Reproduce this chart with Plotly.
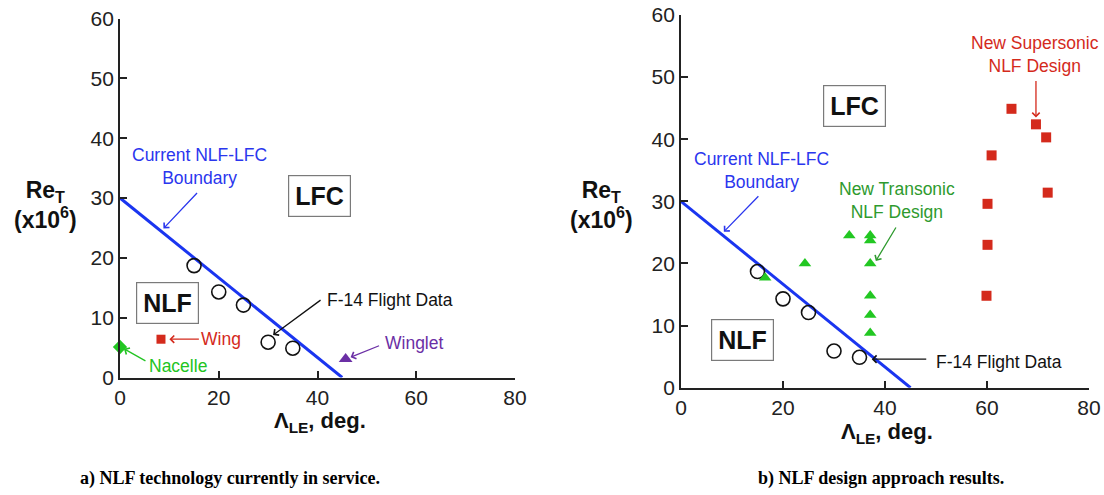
import plotly.graph_objects as go

# ---- data -------------------------------------------------------------
# current NLF-LFC boundary (sweep angle vs. transition Reynolds number)
boundary_sweep = [0, 45]
boundary_re = [30, 0]

# F-14 flight data
f14_sweep = [15, 20, 25, 30, 35]
f14_re = [18.7, 14.3, 12.1, 5.9, 4.9]

# NLF technology currently in service
wing_sweep = [8.3]
wing_re = [6.4]
nacelle_sweep = [0]
nacelle_re = [5.1]
winglet_sweep = [45.7]
winglet_re = [3.1]

# new transonic NLF designs
transonic_sweep = [16.5, 24.3, 33.0, 37.1, 37.1, 37.1, 37.1, 37.1, 37.1]
transonic_re = [17.7, 20.0, 24.5, 24.5, 23.7, 20.0, 14.8, 11.7, 8.8]

# new supersonic NLF designs
supersonic_sweep = [64.8, 69.6, 71.6, 60.9, 71.9, 60.1, 60.1, 59.9]
supersonic_re = [44.9, 42.4, 40.3, 37.4, 31.4, 29.6, 23.0, 14.8]

x_ticks = [0, 20, 40, 60, 80]
y_ticks = [0, 10, 20, 30, 40, 50, 60]

# ---- styling ----------------------------------------------------------
W, H = 1104, 495
BLUE_LINE = "#1a35f0"
BLUE_TXT = "#2a36ee"
RED = "#d42a1c"
GREEN = "#22c722"
GREEN_TXT = "#2e9a2e"
NACELLE_TXT = "#22c422"
PURPLE = "#6b2fa5"
SANS = "Liberation Sans, Arial, sans-serif"
SERIF = "Liberation Serif, Times New Roman, serif"

fig = go.Figure()


def boundary(xa, ya):
    fig.add_trace(go.Scatter(x=boundary_sweep, y=boundary_re, mode="lines",
                             line=dict(color=BLUE_LINE, width=3),
                             xaxis=xa, yaxis=ya, showlegend=False, hoverinfo="skip"))


def f14(xa, ya):
    fig.add_trace(go.Scatter(x=f14_sweep, y=f14_re, mode="markers",
                             marker=dict(symbol="circle-open", size=14,
                                         color="#111", line=dict(width=1.6)),
                             xaxis=xa, yaxis=ya, showlegend=False, cliponaxis=False))


# left panel: technology in service
boundary("x", "y")
f14("x", "y")
fig.add_trace(go.Scatter(x=wing_sweep, y=wing_re, mode="markers",
                         marker=dict(symbol="square", size=9, color=RED),
                         xaxis="x", yaxis="y", showlegend=False, cliponaxis=False))
fig.add_trace(go.Scatter(x=nacelle_sweep, y=nacelle_re, mode="markers",
                         marker=dict(symbol="diamond", size=11, color=GREEN),
                         xaxis="x", yaxis="y", showlegend=False, cliponaxis=False))
fig.add_trace(go.Scatter(x=winglet_sweep, y=winglet_re, mode="markers",
                         marker=dict(symbol="triangle-up", size=12, color=PURPLE),
                         xaxis="x", yaxis="y", showlegend=False, cliponaxis=False))

# right panel: design approach results
boundary("x2", "y2")
f14("x2", "y2")
fig.add_trace(go.Scatter(x=transonic_sweep, y=transonic_re, mode="markers",
                         marker=dict(symbol="triangle-up", size=11, color=GREEN),
                         xaxis="x2", yaxis="y2", showlegend=False, cliponaxis=False))
fig.add_trace(go.Scatter(x=supersonic_sweep, y=supersonic_re, mode="markers",
                         marker=dict(symbol="square", size=10, color=RED),
                         xaxis="x2", yaxis="y2", showlegend=False, cliponaxis=False))

axis_common = dict(showgrid=False, zeroline=False, showline=True, linecolor="#222",
                   linewidth=1.8, ticks="inside", ticklen=7, tickwidth=1.5,
                   tickcolor="#222", tickfont=dict(family=SANS, size=21, color="#222"),
                   automargin=False, fixedrange=True)

fig.update_layout(
    width=W, height=H, margin=dict(l=0, r=0, t=0, b=0, autoexpand=False),
    paper_bgcolor="white", plot_bgcolor="white", showlegend=False,
    xaxis=dict(domain=[120 / W, 515 / W], range=[0, 80], tickvals=x_ticks,
               anchor="y", **axis_common),
    yaxis=dict(domain=[1 - 377.5 / H, 1 - 18.5 / H], range=[0, 60], tickvals=y_ticks,
               anchor="x", **axis_common),
    xaxis2=dict(domain=[681 / W, 1089 / W], range=[0, 80], tickvals=x_ticks,
                anchor="y2", **axis_common),
    yaxis2=dict(domain=[1 - 387.7 / H, 1 - 15 / H], range=[0, 60], tickvals=y_ticks,
                anchor="x2", **axis_common),
)

ann = []


def arrow(xr, yr, x, y, ax, ay, color):
    ann.append(dict(xref=xr, yref=yr, x=x, y=y, ax=ax, ay=ay, text="",
                    showarrow=True, arrowhead=4, arrowsize=1.1, arrowwidth=1.3,
                    arrowcolor=color))


def label(xr, yr, x, y, text, color, size=17.5, bold=False, box=False):
    t = f"<b>{text}</b>" if bold else text
    d = dict(xref=xr, yref=yr, x=x, y=y, text=t, showarrow=False,
             font=dict(family=SANS, size=size, color=color),
             xanchor="center", yanchor="middle")
    if box:
        d.update(bordercolor="#7a7a7a", borderwidth=1.2, borderpad=6, bgcolor="white")
    ann.append(d)


# left panel annotations
arrow("x", "y", 8.8, 24.9, 35, -37, BLUE_TXT)
label("x", "y", 16.1, 35.2, "Current NLF-LFC<br>Boundary", BLUE_TXT)
arrow("x", "y", 31.0, 7.1, 49, -36, "#111")
label("x", "y", 54.6, 13.0, "F-14 Flight Data", "#111")
arrow("x", "y", 10.0, 6.4, 31, 0, RED)
label("x", "y", 20.4, 6.5, "Wing", RED)
arrow("x", "y", 0.8, 4.8, 23, 13, NACELLE_TXT)
label("x", "y", 11.7, 1.9, "Nacelle", NACELLE_TXT)
arrow("x", "y", 46.7, 3.4, 30, -12, PURPLE)
label("x", "y", 59.5, 5.8, "Winglet", PURPLE)
label("x", "y", 40.4, 30.4, "LFC", "#111", size=25, bold=True, box=True)
label("x", "y", 9.7, 12.5, "NLF", "#111", size=25, bold=True, box=True)

# right panel annotations
arrow("x2", "y2", 8.4, 25.1, 36, -37, BLUE_TXT)
label("x2", "y2", 15.7, 35.0, "Current NLF-LFC<br>Boundary", BLUE_TXT)
arrow("x2", "y2", 38.2, 20.4, 21, -35, GREEN_TXT)
label("x2", "y2", 42.4, 30.2, "New Transonic<br>NLF Design", GREEN_TXT)
arrow("x2", "y2", 69.6, 43.5, 0, -38, RED)
label("x2", "y2", 69.4, 53.6, "New Supersonic<br>NLF Design", RED)
arrow("x2", "y2", 37.4, 4.6, 56, 0, "#111")
label("x2", "y2", 62.4, 4.2, "F-14 Flight Data", "#111")
label("x2", "y2", 34.1, 45.3, "LFC", "#111", size=25, bold=True, box=True)
label("x2", "y2", 12.1, 7.6, "NLF", "#111", size=25, bold=True, box=True)

# axis titles
ytitle = "<b>Re<sub>T</sub><br>(x10<sup>6</sup>)</b>"
xtitle = "<b>\u039b<sub>LE</sub>, deg.</b>"
for (px, py, txt, sz) in [(45, 205, ytitle, 23), (601, 205, ytitle, 23),
                          (320, 422, xtitle, 22), (887, 433, xtitle, 22)]:
    ann.append(dict(xref="paper", yref="paper", x=px / W, y=1 - py / H, text=txt,
                    showarrow=False, font=dict(family=SANS, size=sz, color="#111"),
                    xanchor="center", yanchor="middle"))

# panel captions
for (px, txt) in [(230, "a) NLF technology currently in service."),
                  (881, "b) NLF design approach results.")]:
    ann.append(dict(xref="paper", yref="paper", x=px / W, y=1 - 478 / H,
                    text=f"<b>{txt}</b>", showarrow=False,
                    font=dict(family=SERIF, size=18, color="#000"),
                    xanchor="center", yanchor="middle"))

fig.update_layout(annotations=ann)
fig.write_html("out.html")
